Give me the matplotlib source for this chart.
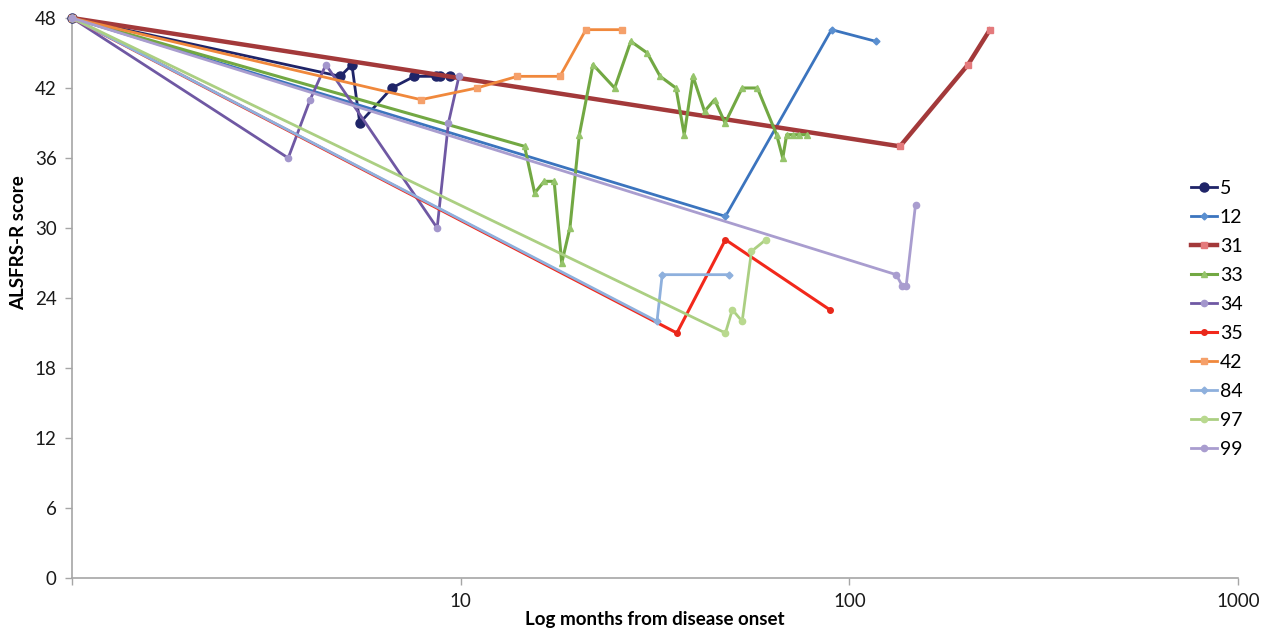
import matplotlib
matplotlib.use("Agg")
import matplotlib.pyplot as plt
from matplotlib.lines import Line2D

plt.rcParams['font.family'] = ['Lato', 'DejaVu Sans']

# ---- data ----
x_5 = [1, 4.9, 5.25, 5.5, 6.65, 7.6, 8.65, 8.85, 9.4]
y_5 = [48, 43, 44, 39, 42, 43, 43, 43, 43]

x_12 = [1, 48, 90, 117]
y_12 = [48, 31, 47, 46]

x_31 = [1, 135, 202, 230]
y_31 = [48, 37, 44, 47]

x_33 = [1, 14.6, 15.5, 16.4, 17.4, 18.2, 19.1, 20.2, 21.9, 24.9, 27.4, 30.2,
        32.6, 35.8, 37.6, 39.6, 42.4, 45.0, 47.9, 53, 58, 65, 67.4, 69, 71.5,
        74.4, 78]
y_33 = [48, 37, 33, 34, 34, 27, 30, 38, 44, 42, 46, 45,
        43, 42, 38, 43, 40, 41, 39, 42, 42, 38, 36, 38, 38,
        38, 38]

x_34 = [1, 3.6, 4.1, 4.5, 8.7, 9.3, 9.9]
y_34 = [48, 36, 41, 44, 30, 39, 43]

x_35 = [1, 36, 48, 89]
y_35 = [48, 21, 29, 23]

x_42 = [1, 7.9, 11, 14, 18, 21, 26]
y_42 = [48, 41, 42, 43, 43, 47, 47]

x_84 = [1, 32, 33, 49]
y_84 = [48, 22, 26, 26]

x_97 = [1, 48, 50, 53, 56, 61]
y_97 = [48, 21, 23, 22, 28, 29]

x_99 = [1, 132, 137, 140, 148]
y_99 = [48, 26, 25, 25, 32]

labels = ['5', '12', '31', '33', '34', '35', '42', '84', '97', '99']
y_ticks = [0, 6, 12, 18, 24, 30, 36, 42, 48]
x_ticks = [10, 100, 1000]

series = [
    (x_5, y_5, '#1F2468', '#1F2468', 'o', 6.5, 2.0),
    (x_12, y_12, '#3B74BE', '#5A8FD0', 'D', 3.5, 2.0),
    (x_31, y_31, '#A3393A', '#E47A7C', 's', 5.0, 3.2),
    (x_33, y_33, '#72A843', '#95C46A', '^', 5.0, 2.2),
    (x_34, y_34, '#6F58A3', '#A396CC', 'o', 4.5, 2.0),
    (x_35, y_35, '#F2281B', '#E8281B', 'o', 4.0, 2.2),
    (x_42, y_42, '#F0883C', '#F5A06A', 's', 5.0, 2.0),
    (x_84, y_84, '#8EB0DD', '#8EB0DD', 'D', 3.5, 2.0),
    (x_97, y_97, '#ABCF82', '#B9D98F', 'o', 4.5, 2.0),
    (x_99, y_99, '#A99DCF', '#A99DCF', 'o', 4.5, 2.0),
]

fig = plt.figure(figsize=(12.65, 6.32), dpi=100)
ax = fig.add_axes([72 / 1265, 1 - 578 / 632, (1238 - 72) / 1265, (578 - 18) / 632])

handles = []
for (xs, ys, c, mc, m, ms, lw), lab in zip(series, labels):
    ax.plot(xs, ys, color=c, lw=lw, marker=m, ms=ms, mfc=mc, mec=mc,
            solid_joinstyle='round', clip_on=False, zorder=3)
    handles.append(Line2D([], [], color=c, lw=lw, marker=m, ms=ms, mfc=mc, mec=mc))

ax.set_xscale('log')
ax.set_xlim(1, 1000)
ax.set_ylim(0, 48)
ax.set_yticks(y_ticks)
ax.set_yticklabels([str(v) for v in y_ticks])
ax.set_xticks([1] + x_ticks)
ax.set_xticklabels([''] + [str(v) for v in x_ticks])
ax.xaxis.set_minor_locator(matplotlib.ticker.NullLocator())

for s in ['top', 'right']:
    ax.spines[s].set_visible(False)
for s in ['left', 'bottom']:
    ax.spines[s].set_color('#A6A6A6')
    ax.spines[s].set_linewidth(1.2)

ax.tick_params(axis='both', colors='#A6A6A6', labelcolor='#1a1a1a', labelsize=13.5,
               length=5, width=1.0, direction='out')
ax.tick_params(axis='x', pad=6)
ax.tick_params(axis='y', pad=6)

ax.set_ylabel('ALSFRS-R score', fontsize=13.5, fontweight='bold')
ax.yaxis.set_label_coords(-45 / 1166, (578 - 243) / 560)
ax.set_xlabel('Log months from disease onset', fontsize=13.5, fontweight='bold')
ax.xaxis.label.set_va('center')
ax.xaxis.set_label_coords(0.5, -(620 - 578) / 560)

fig.legend(handles, labels, loc='upper left', bbox_to_anchor=(1183 / 1265, 1 - 172 / 632),
           frameon=False, fontsize=14, handlelength=1.35, handletextpad=0.15,
           labelspacing=0.62, borderaxespad=0)

fig.savefig('out.png', dpi=100)
